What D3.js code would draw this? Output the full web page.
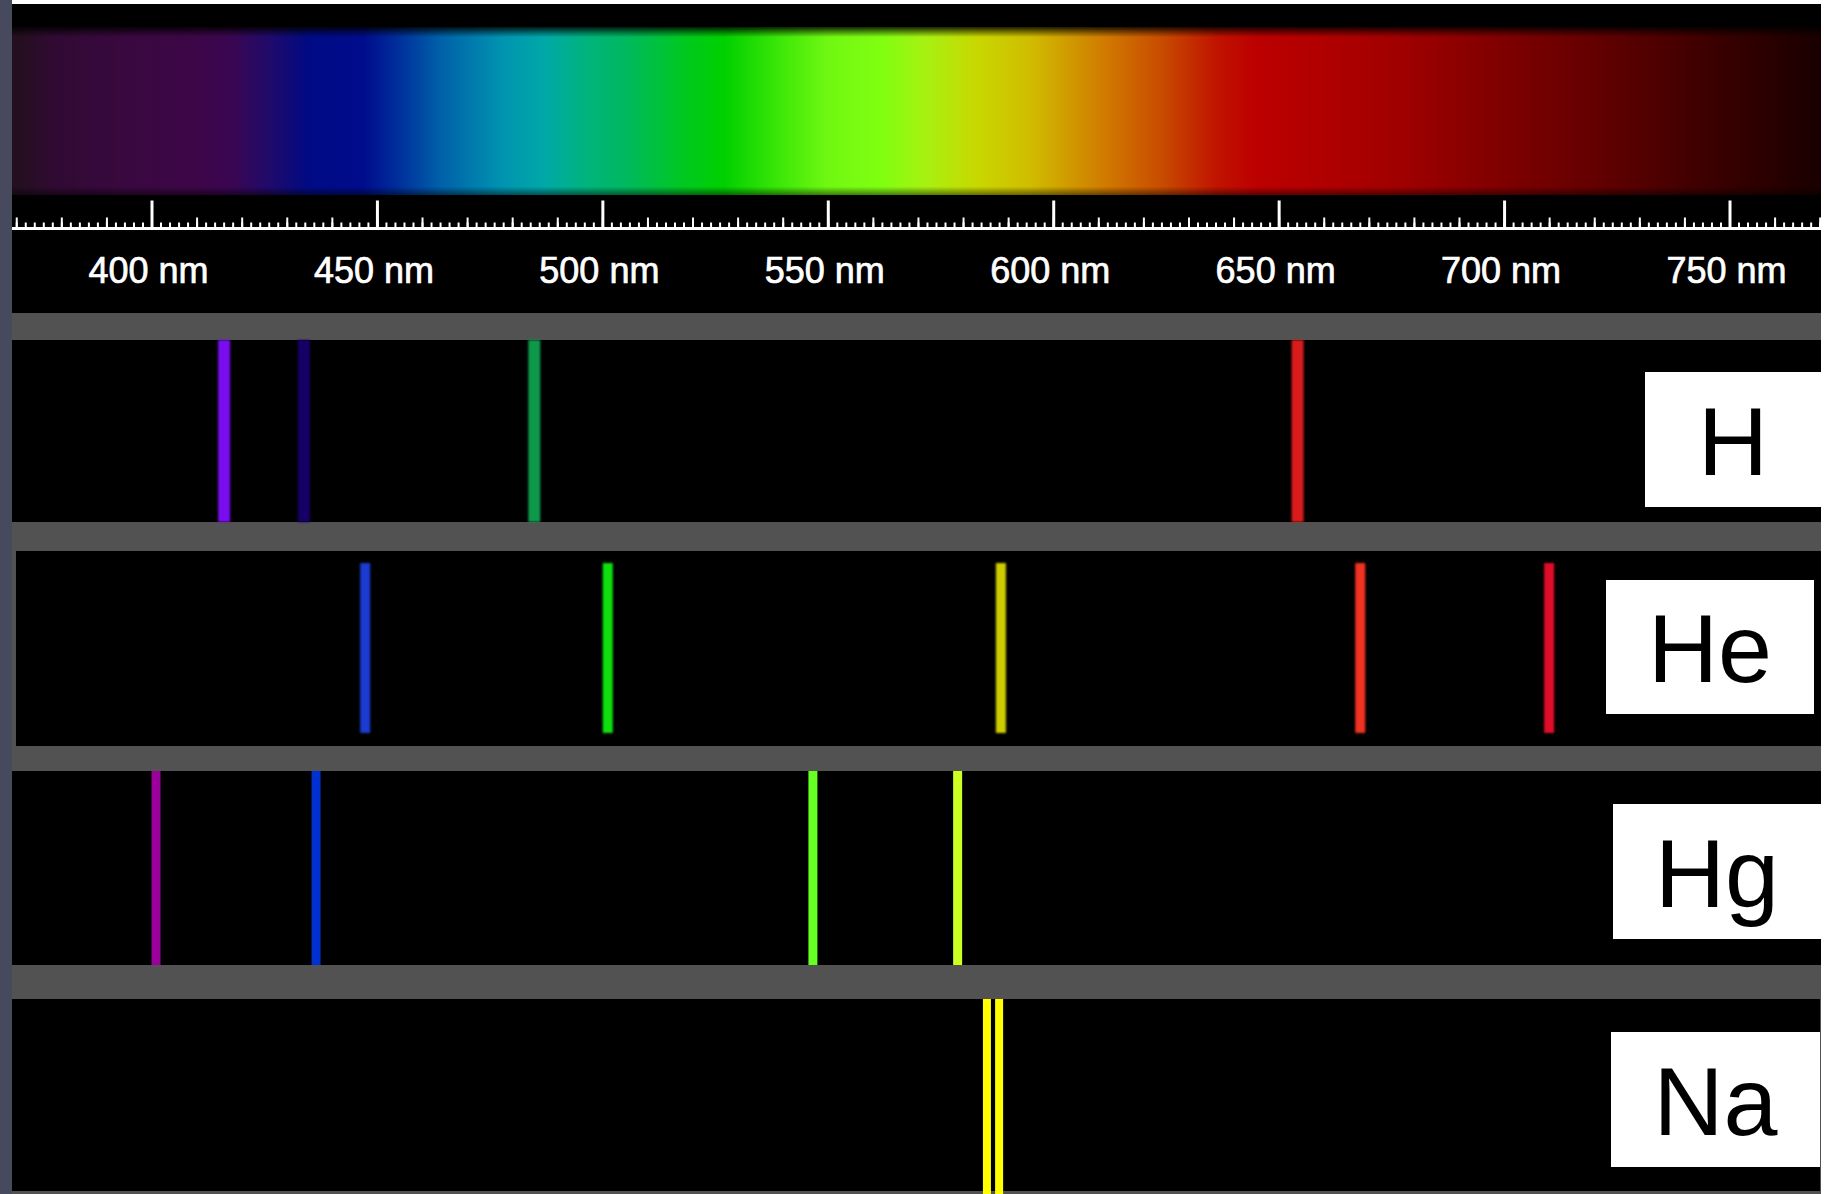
<!DOCTYPE html>
<html>
<head>
<meta charset="utf-8">
<script src="https://cdn.jsdelivr.net/npm/d3@7"></script>
<style>
  html, body { margin: 0; padding: 0; background: #ffffff; }
  svg { display: block; }
  text { font-family: "Liberation Sans", Arial, Helvetica, sans-serif; }
</style>
</head>
<body>
<script>
// ---------------- DATA ----------------
const majorTicks = [400, 450, 500, 550, 600, 650, 700, 750];
const tickLabels = ["400 nm", "450 nm", "500 nm", "550 nm", "600 nm", "650 nm", "700 nm", "750 nm"];
const elements = ["H", "He", "Hg", "Na"];

// emission line wavelengths (nm)
const hLines  = [416.1, 433.8, 484.9, 654.2];
const heLines = [447.4, 501.2, 588.4, 668.1, 710.0];
const hgLines = [401.0, 436.5, 546.7, 578.8];
const naLines = [585.3, 588.0];

// colours of the lines
const hColors  = ["#7a10f0", "#150068", "#10994a", "#d81c1c"];
const heColors = ["#1a3ad0", "#10e010", "#cccc00", "#f03020", "#e0102a"];
const hgColors = ["#9a009a", "#0030d0", "#66ff22", "#ccff22"];
const naColors = ["#ffff00", "#ffff00"];

// continuous spectrum colour stops (nm, colour)
const spectrumWavelengths = [369, 378, 395, 410, 418, 426, 435, 447, 455, 464, 478, 487, 497, 505, 518, 527, 540, 550, 562, 572, 583, 595, 605, 612, 624, 636, 645, 660, 677, 699, 721, 743, 760, 771];
const spectrumColors = ["#22101c", "#300a32", "#3a0840", "#3d0648", "#3a0652", "#200a6a", "#000a84", "#000c8c", "#00309c", "#0060a8", "#0094b0", "#00a8a8", "#00b47a", "#00b860", "#00c820", "#00d000", "#40e808", "#70f812", "#80ff10", "#a8f010", "#c8d800", "#d0bc00", "#d09400", "#d07800", "#c84c00", "#c01400", "#bc0000", "#b00000", "#a00000", "#800000", "#620000", "#400000", "#280000", "#180000"];

// ---------------- LAYOUT / STYLE ----------------
const W = 1824, H = 1194;
const left = 12, right = 1821;
const panels = [
  { el: "H",  y0: 340, y1: 522, x0: 12, x1: 1821, lineY0: 340, lineY1: 522, lw: 12, blur: true,
    box: { x0: 1645, x1: 1821, y0: 372, y1: 507 } },
  { el: "He", y0: 551, y1: 746, x0: 16, x1: 1821, lineY0: 563, lineY1: 733, lw: 10, blur: true,
    box: { x0: 1606, x1: 1814, y0: 580, y1: 714 } },
  { el: "Hg", y0: 771, y1: 965, x0: 12, x1: 1821, lineY0: 771, lineY1: 965, lw: 9, blur: false,
    box: { x0: 1613, x1: 1821, y0: 804, y1: 939 } },
  { el: "Na", y0: 999, y1: 1191, x0: 12, x1: 1820, lineY0: 999, lineY1: 1194, lw: 8, blur: false,
    box: { x0: 1611, x1: 1820, y0: 1032, y1: 1167 } }
];
const lineData = { H: hLines, He: heLines, Hg: hgLines, Na: naLines };
const lineColors = { H: hColors, He: heColors, Hg: hgColors, Na: naColors };

// ---------------- DRAW ----------------
const x = d3.scaleLinear().domain([400, 750]).range([151.5, 1729.5]);

const svg = d3.select("body").append("svg").attr("width", W).attr("height", H);
const defs = svg.append("defs");

// spectrum gradient
const grad = defs.append("linearGradient").attr("id", "spec")
  .attr("gradientUnits", "userSpaceOnUse")
  .attr("x1", x(spectrumWavelengths[0])).attr("x2", x(spectrumWavelengths[spectrumWavelengths.length - 1]))
  .attr("y1", 0).attr("y2", 0);
const span = spectrumWavelengths[spectrumWavelengths.length - 1] - spectrumWavelengths[0];
grad.selectAll("stop").data(spectrumWavelengths).join("stop")
  .attr("offset", d => (d - spectrumWavelengths[0]) / span)
  .attr("stop-color", (d, i) => spectrumColors[i]);

const vgrad = defs.append("linearGradient").attr("id", "vshade").attr("x1", 0).attr("x2", 0).attr("y1", 0).attr("y2", 1);
vgrad.append("stop").attr("offset", 0).attr("stop-color", "#000").attr("stop-opacity", 0.85);
vgrad.append("stop").attr("offset", 0.06).attr("stop-color", "#000").attr("stop-opacity", 0.0);
vgrad.append("stop").attr("offset", 0.95).attr("stop-color", "#000").attr("stop-opacity", 0.0);
vgrad.append("stop").attr("offset", 1).attr("stop-color", "#000").attr("stop-opacity", 0.5);

const blur = defs.append("filter").attr("id", "soft").attr("x", "-50%").attr("width", "200%");
blur.append("feGaussianBlur").attr("stdDeviation", 0.9);

// left strip
svg.append("rect").attr("x", 0).attr("y", 0).attr("width", left).attr("height", H).attr("fill", "#474a5d");

// top black area
svg.append("rect").attr("x", left).attr("y", 4).attr("width", right - left).attr("height", 309).attr("fill", "#000");

// spectrum band
svg.append("rect").attr("x", left).attr("y", 27).attr("width", right - left).attr("height", 168).attr("fill", "url(#spec)");
svg.append("rect").attr("x", left).attr("y", 27).attr("width", right - left).attr("height", 168).attr("fill", "url(#vshade)");

// ruler
const baseY = 228.5;
const minorAxis = d3.axisTop(x).tickValues(d3.range(370, 771, 2)).tickSize(6).tickFormat("");
const midAxis = d3.axisTop(x).tickValues(d3.range(370, 771, 10)).tickSize(11).tickFormat("");
const majAxis = d3.axisTop(x).tickValues(majorTicks).tickSize(28).tickFormat("");
[minorAxis, midAxis, majAxis].forEach((ax, i) => {
  const g = svg.append("g").attr("transform", `translate(0,${baseY})`).call(ax);
  g.select(".domain").remove();
  g.selectAll(".tick line").attr("stroke", "#fff").attr("stroke-width", i === 2 ? 3 : 2);
});
svg.append("line").attr("x1", left).attr("x2", right).attr("y1", baseY).attr("y2", baseY)
  .attr("stroke", "#fff").attr("stroke-width", 3);

// tick labels
svg.append("g").selectAll("text").data(majorTicks).join("text")
  .attr("x", d => x(d) - 3).attr("y", 283)
  .attr("text-anchor", "middle").attr("fill", "#fff")
  .attr("stroke", "#fff").attr("stroke-width", 0.7)
  .attr("font-size", 36).text((d, i) => tickLabels[i]);

// grey background for lower section
svg.append("rect").attr("x", left).attr("y", 313).attr("width", right - left).attr("height", H - 313).attr("fill", "#525252");

// panels
panels.forEach(p => {
  const g = svg.append("g");
  g.append("rect").attr("x", p.x0).attr("y", p.y0).attr("width", p.x1 - p.x0).attr("height", p.y1 - p.y0).attr("fill", "#000");
  const lg = g.append("g");
  if (p.blur) lg.attr("filter", "url(#soft)");
  lg.selectAll("rect").data(lineData[p.el]).join("rect")
    .attr("x", d => x(d) - p.lw / 2).attr("width", p.lw)
    .attr("y", p.lineY0).attr("height", p.lineY1 - p.lineY0)
    .attr("fill", (d, i) => lineColors[p.el][i]);
  g.append("rect").attr("x", p.box.x0).attr("y", p.box.y0).attr("width", p.box.x1 - p.box.x0).attr("height", p.box.y1 - p.box.y0).attr("fill", "#fff");
  g.append("text").attr("x", (p.box.x0 + p.box.x1) / 2).attr("y", (p.box.y0 + p.box.y1) / 2 + 35)
    .attr("text-anchor", "middle").attr("fill", "#000").attr("font-size", 97).text(p.el);
});
</script>
</body>
</html>
